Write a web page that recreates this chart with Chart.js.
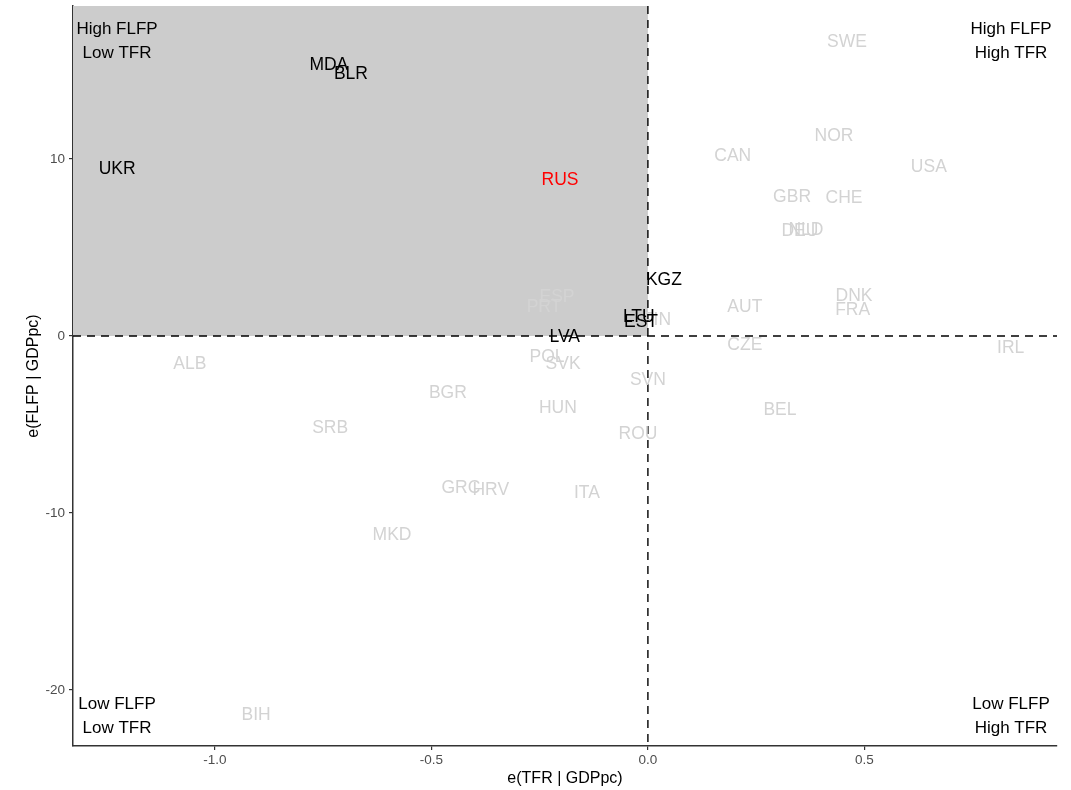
<!DOCTYPE html>
<html>
<head>
<meta charset="utf-8">
<script src="https://cdn.jsdelivr.net/npm/chart.js@4/dist/chart.umd.min.js"></script>
<style>
  html, body { margin: 0; padding: 0; background: #ffffff; }
  #wrap { width: 1071px; height: 790px; position: relative; }
</style>
</head>
<body>
<div id="wrap"><canvas id="c" width="1071" height="790"></canvas></div>
<script>
// Country codes and residuals: e(TFR | GDPpc) on x, e(FLFP | GDPpc) on y
const countries = ["ALB","AUT","BEL","BGR","BIH","CAN","CHE","CZE","DEU","DNK","ESP","FIN","FRA","GBR","GRC","HRV","HUN","IRL","ITA","MKD","NLD","NOR","POL","PRT","ROU","SRB","SVK","SVN","SWE","USA",
                   "UKR","MDA","BLR","KGZ","LTU","EST","LVA","RUS"];
const tfrResid  = [-1.058, 0.224, 0.305, -0.462, -0.905, 0.196, 0.453, 0.224, 0.351, 0.476, -0.210, 0.021, 0.473, 0.333, -0.432, -0.363, -0.208, 0.838, -0.141, -0.591, 0.365, 0.430, -0.233, -0.240, -0.023, -0.734, -0.196, 0.000, 0.460, 0.649,
                   -1.226, -0.737, -0.686, 0.037, -0.021, -0.016, -0.192, -0.203];
const flfpResid = [-1.58, 1.64, -4.18, -3.22, -21.41, 10.17, 7.80, -0.51, 5.93, 2.26, 2.20, 0.90, 1.47, 7.85, -8.59, -8.70, -4.07, -0.68, -8.87, -11.24, 5.99, 11.30, -1.19, 1.64, -5.54, -5.20, -1.58, -2.49, 16.61, 9.55,
                   9.43, 15.31, 14.80, 3.16, 1.07, 0.79, -0.06, 8.81];
// Which group each country belongs to: other OECD, post-Soviet, Russia
const groups    = ["other","other","other","other","other","other","other","other","other","other","other","other","other","other","other","other","other","other","other","other","other","other","other","other","other","other","other","other","other","other",
                   "post","post","post","post","post","post","post","russia"];

const xTicks = [-1.0, -0.5, 0.0, 0.5];
const yTicks = [-20, -10, 0, 10];
const xRange = [-1.328, 0.945];
const yRange = [-23.16, 18.64];
const xTitle = 'e(TFR | GDPpc)';
const yTitle = 'e(FLFP | GDPpc)';

const quadrantNotes = [
  { lines: ["High FLFP", "Low TFR"],  corner: "tl" },
  { lines: ["High FLFP", "High TFR"], corner: "tr" },
  { lines: ["Low FLFP", "Low TFR"],   corner: "bl" },
  { lines: ["Low FLFP", "High TFR"],  corner: "br" }
];

const groupColor = { other: "#d3d3d3", post: "#000000", russia: "#ff0000" };
const FONT = '"Liberation Sans", Arial, Helvetica, sans-serif';

const points = countries.map((c, i) => ({ x: tfrResid[i], y: flfpResid[i], code: c, group: groups[i] }));

// Shaded high-FLFP / low-TFR quadrant and the dashed zero lines
const quadrantPlugin = {
  id: 'quadrant',
  beforeDatasetsDraw(chart) {
    const { ctx, chartArea: a, scales: { x, y } } = chart;
    const x0 = x.getPixelForValue(0), y0 = y.getPixelForValue(0);
    ctx.save();
    ctx.fillStyle = '#cccccc';
    ctx.fillRect(a.left, a.top, x0 - a.left, y0 - a.top);
    ctx.strokeStyle = '#000000';
    ctx.lineWidth = 1.4;
    ctx.setLineDash([8, 6]);
    ctx.beginPath();
    ctx.moveTo(a.left, y0); ctx.lineTo(a.right, y0);
    ctx.moveTo(x0, a.top); ctx.lineTo(x0, a.bottom);
    ctx.stroke();
    ctx.restore();
  }
};

// Country code labels placed at each data point, quadrant captions, axis titles
const labelPlugin = {
  id: 'labels',
  afterDatasetsDraw(chart) {
    const { ctx, chartArea: a, scales: { x, y } } = chart;
    ctx.save();
    ctx.font = '17.5px ' + FONT;
    ctx.textAlign = 'center';
    ctx.textBaseline = 'middle';
    ['other', 'post', 'russia'].forEach(g => {
      points.filter(p => p.group === g).forEach(p => {
        ctx.fillStyle = groupColor[g];
        ctx.fillText(p.code, x.getPixelForValue(p.x), y.getPixelForValue(p.y));
      });
    });
    ctx.font = '17px ' + FONT;
    ctx.fillStyle = '#000000';
    quadrantNotes.forEach(q => {
      const cx = q.corner[1] === 'l' ? a.left + 44 : a.right - 46;
      const cy = q.corner[0] === 't' ? a.top + 23 : a.bottom - 42;
      q.lines.forEach((t, k) => ctx.fillText(t, cx, cy + k * 24));
    });
    ctx.font = '16px ' + FONT;
    ctx.fillText(xTitle, (a.left + a.right) / 2, 779);
    ctx.translate(34, (a.top + a.bottom) / 2);
    ctx.rotate(-Math.PI / 2);
    ctx.fillText(yTitle, 0, 0);
    ctx.restore();
  }
};

new Chart(document.getElementById('c'), {
  type: 'scatter',
  data: {
    datasets: [{
      data: points,
      pointRadius: 0,
      pointHoverRadius: 0,
      showLine: false
    }]
  },
  options: {
    responsive: false,
    animation: false,
    events: [],
    layout: { padding: { left: 0, right: 14, top: 6, bottom: 0 } },
    plugins: { legend: { display: false }, tooltip: { enabled: false } },
    scales: {
      x: {
        type: 'linear',
        min: xRange[0], max: xRange[1],
        afterBuildTicks(s) { s.ticks = xTicks.map(v => ({ value: v })); },
        afterFit(s) { s.height = 44; s.paddingLeft = 0; s.paddingRight = 0; },
        ticks: {
          color: '#4d4d4d', font: { family: FONT, size: 13.5 }, padding: 2,
          callback: v => v.toFixed(1)
        },
        grid: { drawOnChartArea: false, tickLength: 4, color: '#333333', lineWidth: 1.2 },
        border: { display: true, color: '#333333', width: 1.5 }
      },
      y: {
        type: 'linear',
        min: yRange[0], max: yRange[1],
        afterBuildTicks(s) { s.ticks = yTicks.map(v => ({ value: v })); },
        afterFit(s) { s.width = 73; s.paddingTop = 0; s.paddingBottom = 0; },
        ticks: {
          color: '#4d4d4d', font: { family: FONT, size: 13.5 }, padding: 4,
          callback: v => String(v)
        },
        grid: { drawOnChartArea: false, tickLength: 4, color: '#333333', lineWidth: 1.2 },
        border: { display: true, color: '#333333', width: 1.5 }
      }
    }
  },
  plugins: [quadrantPlugin, labelPlugin]
});
</script>
</body>
</html>
